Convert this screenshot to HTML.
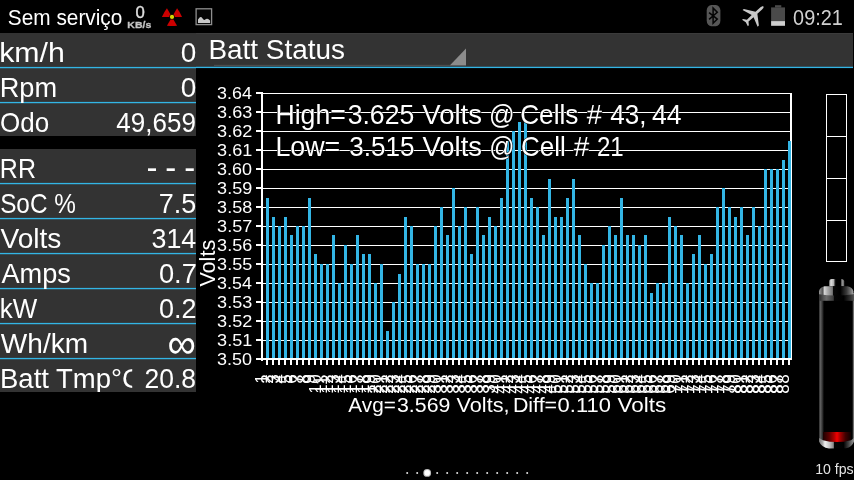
<!DOCTYPE html>
<html lang="pt"><head><meta charset="utf-8"><title>Batt Status</title>
<style>
html,body{margin:0;padding:0;background:#000;overflow:hidden}
svg{display:block;font-family:"Liberation Sans",sans-serif}
text{font-family:"Liberation Sans",sans-serif}
</style></head><body>
<svg width="854" height="480" viewBox="0 0 854 480">
<rect x="0" y="0" width="854" height="480" fill="#000"/>
<text x="7.86" y="25.0" font-size="22.2" fill="#fff" textLength="114.5" lengthAdjust="spacingAndGlyphs">Sem serviço</text>
<text x="135.53" y="17.9" font-size="16.6" fill="#e0e0e0" textLength="9.32" lengthAdjust="spacingAndGlyphs" stroke="#e0e0e0" stroke-width="0.35">0</text>
<text x="127.39" y="27.9" font-size="9.8" fill="#c4c4c4" textLength="23.94" lengthAdjust="spacingAndGlyphs" stroke="#c4c4c4" stroke-width="0.3" font-weight="bold">KB/s</text>
<path d="M172.0,16.9 L182.10,16.90 Q180.13,12.20 177.05,8.15 Z" fill="#cc0000"/>
<path d="M172.0,16.9 L166.95,8.15 Q163.87,12.20 161.90,16.90 Z" fill="#cc0000"/>
<path d="M172.0,16.9 L166.95,25.65 Q172.00,26.29 177.05,25.65 Z" fill="#cc0000"/>
<circle cx="172.0" cy="16.9" r="2.7" fill="#000"/>
<circle cx="172.0" cy="16.9" r="2.1" fill="#d6d600"/>
<rect x="196.1" y="8.8" width="15.5" height="15.8" fill="#050505" stroke="#8e8e8e" stroke-width="1.3"/>
<path d="M198,22.9 L198,19.6 L199.6,17.4 L200.6,16.9 L201.6,17.3 L203.4,19.4 L204.5,19.9 L206,18.9 L207,18.7 L208.2,19 L210.1,20.6 L210.1,22.9 Z" fill="#c8c8c8"/>
<rect x="706.7" y="5.0" width="13.7" height="21.2" rx="4.6" ry="5.6" fill="#565656"/>
<path d="M709.1,12.6 L717.3,19.1 L713.1,23.3 L713.1,8.1 L717.3,12.3 L709.1,19.4" fill="none" stroke="#050505" stroke-width="1.5" stroke-linejoin="miter"/>
<g transform="translate(754.0,14.9) rotate(48) scale(0.96)" fill="#c9c9c9"><path d="M0,-13.2 C1.0,-13.2 1.45,-11.6 1.45,-10 L1.45,-3.4 L11.7,3.7 L11.7,5.5 L1.45,1.9 L1.25,8.8 L4.5,11.3 L4.5,12.7 L0,11.5 L-4.5,12.7 L-4.5,11.3 L-1.25,8.8 L-1.45,1.9 L-11.7,5.5 L-11.7,3.7 L-1.45,-3.4 L-1.45,-10 C-1.45,-11.6 -1.0,-13.2 0,-13.2 Z"/></g>
<rect x="775.0" y="5.2" width="6.3" height="2.4" fill="#4a4a4a"/>
<rect x="771.1" y="7.4" width="13.9" height="13.8" fill="#4a4a4a"/>
<rect x="771.1" y="21.1" width="13.9" height="4.7" fill="#cfcfcf"/>
<text x="793.1" y="25.0" font-size="22.0" fill="#d0d0d0" textLength="49.74" lengthAdjust="spacingAndGlyphs">09:21</text>
<rect x="0" y="33" width="853" height="35" fill="#333333"/>
<rect x="196" y="33" width="657" height="1" fill="#3b3b3b"/>
<rect x="0" y="68" width="196" height="68" fill="#333333"/>
<rect x="0" y="149" width="196" height="243" fill="#333333"/>
<rect x="214" y="64.8" width="252" height="1.2" fill="#4d4d4d"/>
<path d="M466,48.5 L466,65.3 L450,65.3 Z" fill="#8c8c8c"/>
<rect x="0" y="66.9" width="196" height="1.33" fill="#33b5e5"/>
<rect x="196" y="66.75" width="657" height="1.33" fill="#33b5e5"/>
<rect x="0" y="101.9" width="196" height="1.33" fill="#33b5e5"/>
<rect x="0" y="182.9" width="196" height="1.33" fill="#33b5e5"/>
<rect x="0" y="217.9" width="196" height="1.33" fill="#33b5e5"/>
<rect x="0" y="252.9" width="196" height="1.33" fill="#33b5e5"/>
<rect x="0" y="287.9" width="196" height="1.33" fill="#33b5e5"/>
<rect x="0" y="322.9" width="196" height="1.33" fill="#33b5e5"/>
<rect x="0" y="357.9" width="196" height="1.33" fill="#33b5e5"/>
<text x="208.5" y="58.8" font-size="27.7" fill="#fff" textLength="136.46" lengthAdjust="spacingAndGlyphs">Batt Status</text>
<clipPath id="cl"><rect x="0" y="360" width="132.2" height="32"/></clipPath>
<text x="-0.79" y="61.9" font-size="27.7" fill="#fff" textLength="65.65" lengthAdjust="spacingAndGlyphs">km/h</text>
<text x="180.78" y="61.9" font-size="27.7" fill="#fff" textLength="15.55" lengthAdjust="spacingAndGlyphs">0</text>
<text x="-0.34" y="96.9" font-size="27.7" fill="#fff" textLength="57.45" lengthAdjust="spacingAndGlyphs">Rpm</text>
<text x="180.78" y="96.9" font-size="27.7" fill="#fff" textLength="15.55" lengthAdjust="spacingAndGlyphs">0</text>
<text x="0.02" y="132.0" font-size="27.7" fill="#fff" textLength="49.13" lengthAdjust="spacingAndGlyphs">Odo</text>
<text x="116.31" y="132.0" font-size="27.7" fill="#fff" textLength="79.59" lengthAdjust="spacingAndGlyphs">49,659</text>
<text x="-0.16" y="178.0" font-size="27.7" fill="#fff" textLength="36.08" lengthAdjust="spacingAndGlyphs">RR</text>
<text x="0.16" y="212.8" font-size="27.7" fill="#fff" textLength="75.69" lengthAdjust="spacingAndGlyphs">SoC %</text>
<text x="158.65" y="212.8" font-size="27.7" fill="#fff" textLength="37.54" lengthAdjust="spacingAndGlyphs">7.5</text>
<text x="0.46" y="247.8" font-size="27.7" fill="#fff" textLength="60.94" lengthAdjust="spacingAndGlyphs">Volts</text>
<text x="151.49" y="247.8" font-size="27.7" fill="#fff" textLength="44.77" lengthAdjust="spacingAndGlyphs">314</text>
<text x="1.43" y="282.8" font-size="27.7" fill="#fff" textLength="69.55" lengthAdjust="spacingAndGlyphs">Amps</text>
<text x="158.91" y="282.8" font-size="27.7" fill="#fff" textLength="37.96" lengthAdjust="spacingAndGlyphs">0.7</text>
<text x="-0.25" y="317.8" font-size="27.7" fill="#fff" textLength="37.45" lengthAdjust="spacingAndGlyphs">kW</text>
<text x="158.92" y="317.8" font-size="27.7" fill="#fff" textLength="37.54" lengthAdjust="spacingAndGlyphs">0.2</text>
<text x="0.86" y="352.8" font-size="27.7" fill="#fff" textLength="87.24" lengthAdjust="spacingAndGlyphs">Wh/km</text>
<text x="167.41" y="357.6" font-size="42" fill="#fff" textLength="28.4" lengthAdjust="spacingAndGlyphs">∞</text>
<text x="-0.02" y="387.6" font-size="27.7" fill="#fff" textLength="141.97" lengthAdjust="spacingAndGlyphs" clip-path="url(#cl)">Batt Tmp°C</text>
<text x="144.43" y="387.6" font-size="27.7" fill="#fff" textLength="51.54" lengthAdjust="spacingAndGlyphs">20.8</text>
<text y="179.1" font-size="33" fill="#fff" x="146.45 158 165.35 177 184.3">- - -</text>
<rect x="262" y="93" width="529" height="1" fill="#fff"/>
<rect x="256" y="92" width="6" height="2" fill="#fff"/>
<text x="217.13" y="98.7" font-size="17" fill="#fff" textLength="34.79" lengthAdjust="spacingAndGlyphs">3.64</text>
<rect x="262" y="112" width="529" height="1" fill="#fff"/>
<rect x="256" y="111" width="6" height="2" fill="#fff"/>
<text x="217.12" y="117.7" font-size="17" fill="#fff" textLength="35.07" lengthAdjust="spacingAndGlyphs">3.63</text>
<rect x="262" y="131" width="529" height="1" fill="#fff"/>
<rect x="256" y="130" width="6" height="2" fill="#fff"/>
<text x="217.12" y="136.7" font-size="17" fill="#fff" textLength="35.21" lengthAdjust="spacingAndGlyphs">3.62</text>
<rect x="262" y="150" width="529" height="1" fill="#fff"/>
<rect x="256" y="149" width="6" height="2" fill="#fff"/>
<text x="217.12" y="155.7" font-size="17" fill="#fff" textLength="35.16" lengthAdjust="spacingAndGlyphs">3.61</text>
<rect x="262" y="169" width="529" height="1" fill="#fff"/>
<rect x="256" y="168" width="6" height="2" fill="#fff"/>
<text x="217.13" y="174.7" font-size="17" fill="#fff" textLength="34.97" lengthAdjust="spacingAndGlyphs">3.60</text>
<rect x="262" y="188" width="529" height="1" fill="#fff"/>
<rect x="256" y="187" width="6" height="2" fill="#fff"/>
<text x="217.12" y="193.7" font-size="17" fill="#fff" textLength="35.11" lengthAdjust="spacingAndGlyphs">3.59</text>
<rect x="262" y="207" width="529" height="1" fill="#fff"/>
<rect x="256" y="206" width="6" height="2" fill="#fff"/>
<text x="217.12" y="212.7" font-size="17" fill="#fff" textLength="35.07" lengthAdjust="spacingAndGlyphs">3.58</text>
<rect x="262" y="226" width="529" height="1" fill="#fff"/>
<rect x="256" y="225" width="6" height="2" fill="#fff"/>
<text x="217.12" y="231.7" font-size="17" fill="#fff" textLength="35.21" lengthAdjust="spacingAndGlyphs">3.57</text>
<rect x="262" y="245" width="529" height="1" fill="#fff"/>
<rect x="256" y="244" width="6" height="2" fill="#fff"/>
<text x="217.12" y="250.7" font-size="17" fill="#fff" textLength="35.07" lengthAdjust="spacingAndGlyphs">3.56</text>
<rect x="262" y="264" width="529" height="1" fill="#fff"/>
<rect x="256" y="263" width="6" height="2" fill="#fff"/>
<text x="217.13" y="269.7" font-size="17" fill="#fff" textLength="35.02" lengthAdjust="spacingAndGlyphs">3.55</text>
<rect x="262" y="283" width="529" height="1" fill="#fff"/>
<rect x="256" y="282" width="6" height="2" fill="#fff"/>
<text x="217.13" y="288.7" font-size="17" fill="#fff" textLength="34.79" lengthAdjust="spacingAndGlyphs">3.54</text>
<rect x="262" y="302" width="529" height="1" fill="#fff"/>
<rect x="256" y="301" width="6" height="2" fill="#fff"/>
<text x="217.12" y="307.7" font-size="17" fill="#fff" textLength="35.07" lengthAdjust="spacingAndGlyphs">3.53</text>
<rect x="262" y="321" width="529" height="1" fill="#fff"/>
<rect x="256" y="320" width="6" height="2" fill="#fff"/>
<text x="217.12" y="326.7" font-size="17" fill="#fff" textLength="35.21" lengthAdjust="spacingAndGlyphs">3.52</text>
<rect x="262" y="340" width="529" height="1" fill="#fff"/>
<rect x="256" y="339" width="6" height="2" fill="#fff"/>
<text x="217.12" y="345.7" font-size="17" fill="#fff" textLength="35.16" lengthAdjust="spacingAndGlyphs">3.51</text>
<rect x="262" y="359" width="529" height="1" fill="#fff"/>
<rect x="256" y="358" width="6" height="2" fill="#fff"/>
<text x="217.13" y="364.7" font-size="17" fill="#fff" textLength="34.97" lengthAdjust="spacingAndGlyphs">3.50</text>
<rect x="790" y="93" width="2" height="267" fill="#fff"/>
<rect x="266" y="198" width="3" height="161" fill="#33b5e5"/>
<rect x="272" y="217" width="3" height="142" fill="#33b5e5"/>
<rect x="278" y="226" width="3" height="133" fill="#33b5e5"/>
<rect x="284" y="217" width="3" height="142" fill="#33b5e5"/>
<rect x="290" y="235" width="3" height="124" fill="#33b5e5"/>
<rect x="296" y="226" width="3" height="133" fill="#33b5e5"/>
<rect x="302" y="226" width="3" height="133" fill="#33b5e5"/>
<rect x="308" y="198" width="3" height="161" fill="#33b5e5"/>
<rect x="314" y="254" width="3" height="105" fill="#33b5e5"/>
<rect x="320" y="264" width="3" height="95" fill="#33b5e5"/>
<rect x="326" y="264" width="3" height="95" fill="#33b5e5"/>
<rect x="332" y="235" width="3" height="124" fill="#33b5e5"/>
<rect x="338" y="283" width="3" height="76" fill="#33b5e5"/>
<rect x="344" y="245" width="3" height="114" fill="#33b5e5"/>
<rect x="350" y="264" width="3" height="95" fill="#33b5e5"/>
<rect x="356" y="235" width="3" height="124" fill="#33b5e5"/>
<rect x="362" y="254" width="3" height="105" fill="#33b5e5"/>
<rect x="368" y="254" width="3" height="105" fill="#33b5e5"/>
<rect x="374" y="283" width="3" height="76" fill="#33b5e5"/>
<rect x="380" y="264" width="3" height="95" fill="#33b5e5"/>
<rect x="386" y="331" width="3" height="28" fill="#33b5e5"/>
<rect x="392" y="302" width="3" height="57" fill="#33b5e5"/>
<rect x="398" y="274" width="3" height="85" fill="#33b5e5"/>
<rect x="404" y="217" width="3" height="142" fill="#33b5e5"/>
<rect x="410" y="226" width="3" height="133" fill="#33b5e5"/>
<rect x="416" y="264" width="3" height="95" fill="#33b5e5"/>
<rect x="422" y="264" width="3" height="95" fill="#33b5e5"/>
<rect x="428" y="264" width="3" height="95" fill="#33b5e5"/>
<rect x="434" y="226" width="3" height="133" fill="#33b5e5"/>
<rect x="440" y="207" width="3" height="152" fill="#33b5e5"/>
<rect x="446" y="235" width="3" height="124" fill="#33b5e5"/>
<rect x="452" y="188" width="3" height="171" fill="#33b5e5"/>
<rect x="458" y="226" width="3" height="133" fill="#33b5e5"/>
<rect x="464" y="207" width="3" height="152" fill="#33b5e5"/>
<rect x="470" y="254" width="3" height="105" fill="#33b5e5"/>
<rect x="476" y="207" width="3" height="152" fill="#33b5e5"/>
<rect x="482" y="235" width="3" height="124" fill="#33b5e5"/>
<rect x="488" y="217" width="3" height="142" fill="#33b5e5"/>
<rect x="494" y="226" width="3" height="133" fill="#33b5e5"/>
<rect x="500" y="198" width="3" height="161" fill="#33b5e5"/>
<rect x="506" y="141" width="3" height="218" fill="#33b5e5"/>
<rect x="512" y="131" width="3" height="228" fill="#33b5e5"/>
<rect x="518" y="122" width="3" height="237" fill="#33b5e5"/>
<rect x="524" y="122" width="3" height="237" fill="#33b5e5"/>
<rect x="530" y="198" width="3" height="161" fill="#33b5e5"/>
<rect x="536" y="207" width="3" height="152" fill="#33b5e5"/>
<rect x="542" y="235" width="3" height="124" fill="#33b5e5"/>
<rect x="548" y="179" width="3" height="180" fill="#33b5e5"/>
<rect x="554" y="217" width="3" height="142" fill="#33b5e5"/>
<rect x="560" y="217" width="3" height="142" fill="#33b5e5"/>
<rect x="566" y="198" width="3" height="161" fill="#33b5e5"/>
<rect x="572" y="179" width="3" height="180" fill="#33b5e5"/>
<rect x="578" y="235" width="3" height="124" fill="#33b5e5"/>
<rect x="584" y="264" width="3" height="95" fill="#33b5e5"/>
<rect x="590" y="283" width="3" height="76" fill="#33b5e5"/>
<rect x="596" y="283" width="3" height="76" fill="#33b5e5"/>
<rect x="602" y="245" width="3" height="114" fill="#33b5e5"/>
<rect x="608" y="226" width="3" height="133" fill="#33b5e5"/>
<rect x="614" y="235" width="3" height="124" fill="#33b5e5"/>
<rect x="620" y="198" width="3" height="161" fill="#33b5e5"/>
<rect x="626" y="235" width="3" height="124" fill="#33b5e5"/>
<rect x="632" y="235" width="3" height="124" fill="#33b5e5"/>
<rect x="638" y="245" width="3" height="114" fill="#33b5e5"/>
<rect x="644" y="235" width="3" height="124" fill="#33b5e5"/>
<rect x="650" y="293" width="3" height="66" fill="#33b5e5"/>
<rect x="656" y="283" width="3" height="76" fill="#33b5e5"/>
<rect x="662" y="283" width="3" height="76" fill="#33b5e5"/>
<rect x="668" y="217" width="3" height="142" fill="#33b5e5"/>
<rect x="674" y="226" width="3" height="133" fill="#33b5e5"/>
<rect x="680" y="235" width="3" height="124" fill="#33b5e5"/>
<rect x="686" y="283" width="3" height="76" fill="#33b5e5"/>
<rect x="692" y="254" width="3" height="105" fill="#33b5e5"/>
<rect x="698" y="235" width="3" height="124" fill="#33b5e5"/>
<rect x="704" y="264" width="3" height="95" fill="#33b5e5"/>
<rect x="710" y="254" width="3" height="105" fill="#33b5e5"/>
<rect x="716" y="207" width="3" height="152" fill="#33b5e5"/>
<rect x="722" y="188" width="3" height="171" fill="#33b5e5"/>
<rect x="728" y="207" width="3" height="152" fill="#33b5e5"/>
<rect x="734" y="217" width="3" height="142" fill="#33b5e5"/>
<rect x="740" y="207" width="3" height="152" fill="#33b5e5"/>
<rect x="746" y="235" width="3" height="124" fill="#33b5e5"/>
<rect x="752" y="207" width="3" height="152" fill="#33b5e5"/>
<rect x="758" y="226" width="3" height="133" fill="#33b5e5"/>
<rect x="764" y="169" width="3" height="190" fill="#33b5e5"/>
<rect x="770" y="169" width="3" height="190" fill="#33b5e5"/>
<rect x="776" y="169" width="3" height="190" fill="#33b5e5"/>
<rect x="782" y="160" width="3" height="199" fill="#33b5e5"/>
<rect x="788" y="141" width="3" height="218" fill="#33b5e5"/>
<rect x="261" y="92" width="2" height="269" fill="#fff"/>
<rect x="261" y="358" width="531" height="2" fill="#fff"/>
<rect x="266" y="360" width="2" height="5" fill="#fff"/>
<rect x="272" y="360" width="2" height="5" fill="#fff"/>
<rect x="278" y="360" width="2" height="5" fill="#fff"/>
<rect x="284" y="360" width="2" height="5" fill="#fff"/>
<rect x="290" y="360" width="2" height="5" fill="#fff"/>
<rect x="296" y="360" width="2" height="5" fill="#fff"/>
<rect x="302" y="360" width="2" height="5" fill="#fff"/>
<rect x="308" y="360" width="2" height="5" fill="#fff"/>
<rect x="314" y="360" width="2" height="5" fill="#fff"/>
<rect x="320" y="360" width="2" height="5" fill="#fff"/>
<rect x="326" y="360" width="2" height="5" fill="#fff"/>
<rect x="332" y="360" width="2" height="5" fill="#fff"/>
<rect x="338" y="360" width="2" height="5" fill="#fff"/>
<rect x="344" y="360" width="2" height="5" fill="#fff"/>
<rect x="350" y="360" width="2" height="5" fill="#fff"/>
<rect x="356" y="360" width="2" height="5" fill="#fff"/>
<rect x="362" y="360" width="2" height="5" fill="#fff"/>
<rect x="368" y="360" width="2" height="5" fill="#fff"/>
<rect x="374" y="360" width="2" height="5" fill="#fff"/>
<rect x="380" y="360" width="2" height="5" fill="#fff"/>
<rect x="386" y="360" width="2" height="5" fill="#fff"/>
<rect x="392" y="360" width="2" height="5" fill="#fff"/>
<rect x="398" y="360" width="2" height="5" fill="#fff"/>
<rect x="404" y="360" width="2" height="5" fill="#fff"/>
<rect x="410" y="360" width="2" height="5" fill="#fff"/>
<rect x="416" y="360" width="2" height="5" fill="#fff"/>
<rect x="422" y="360" width="2" height="5" fill="#fff"/>
<rect x="428" y="360" width="2" height="5" fill="#fff"/>
<rect x="434" y="360" width="2" height="5" fill="#fff"/>
<rect x="440" y="360" width="2" height="5" fill="#fff"/>
<rect x="446" y="360" width="2" height="5" fill="#fff"/>
<rect x="452" y="360" width="2" height="5" fill="#fff"/>
<rect x="458" y="360" width="2" height="5" fill="#fff"/>
<rect x="464" y="360" width="2" height="5" fill="#fff"/>
<rect x="470" y="360" width="2" height="5" fill="#fff"/>
<rect x="476" y="360" width="2" height="5" fill="#fff"/>
<rect x="482" y="360" width="2" height="5" fill="#fff"/>
<rect x="488" y="360" width="2" height="5" fill="#fff"/>
<rect x="494" y="360" width="2" height="5" fill="#fff"/>
<rect x="500" y="360" width="2" height="5" fill="#fff"/>
<rect x="506" y="360" width="2" height="5" fill="#fff"/>
<rect x="512" y="360" width="2" height="5" fill="#fff"/>
<rect x="518" y="360" width="2" height="5" fill="#fff"/>
<rect x="524" y="360" width="2" height="5" fill="#fff"/>
<rect x="530" y="360" width="2" height="5" fill="#fff"/>
<rect x="536" y="360" width="2" height="5" fill="#fff"/>
<rect x="542" y="360" width="2" height="5" fill="#fff"/>
<rect x="548" y="360" width="2" height="5" fill="#fff"/>
<rect x="554" y="360" width="2" height="5" fill="#fff"/>
<rect x="560" y="360" width="2" height="5" fill="#fff"/>
<rect x="566" y="360" width="2" height="5" fill="#fff"/>
<rect x="572" y="360" width="2" height="5" fill="#fff"/>
<rect x="578" y="360" width="2" height="5" fill="#fff"/>
<rect x="584" y="360" width="2" height="5" fill="#fff"/>
<rect x="590" y="360" width="2" height="5" fill="#fff"/>
<rect x="596" y="360" width="2" height="5" fill="#fff"/>
<rect x="602" y="360" width="2" height="5" fill="#fff"/>
<rect x="608" y="360" width="2" height="5" fill="#fff"/>
<rect x="614" y="360" width="2" height="5" fill="#fff"/>
<rect x="620" y="360" width="2" height="5" fill="#fff"/>
<rect x="626" y="360" width="2" height="5" fill="#fff"/>
<rect x="632" y="360" width="2" height="5" fill="#fff"/>
<rect x="638" y="360" width="2" height="5" fill="#fff"/>
<rect x="644" y="360" width="2" height="5" fill="#fff"/>
<rect x="650" y="360" width="2" height="5" fill="#fff"/>
<rect x="656" y="360" width="2" height="5" fill="#fff"/>
<rect x="662" y="360" width="2" height="5" fill="#fff"/>
<rect x="668" y="360" width="2" height="5" fill="#fff"/>
<rect x="674" y="360" width="2" height="5" fill="#fff"/>
<rect x="680" y="360" width="2" height="5" fill="#fff"/>
<rect x="686" y="360" width="2" height="5" fill="#fff"/>
<rect x="692" y="360" width="2" height="5" fill="#fff"/>
<rect x="698" y="360" width="2" height="5" fill="#fff"/>
<rect x="704" y="360" width="2" height="5" fill="#fff"/>
<rect x="710" y="360" width="2" height="5" fill="#fff"/>
<rect x="716" y="360" width="2" height="5" fill="#fff"/>
<rect x="722" y="360" width="2" height="5" fill="#fff"/>
<rect x="728" y="360" width="2" height="5" fill="#fff"/>
<rect x="734" y="360" width="2" height="5" fill="#fff"/>
<rect x="740" y="360" width="2" height="5" fill="#fff"/>
<rect x="746" y="360" width="2" height="5" fill="#fff"/>
<rect x="752" y="360" width="2" height="5" fill="#fff"/>
<rect x="758" y="360" width="2" height="5" fill="#fff"/>
<rect x="764" y="360" width="2" height="5" fill="#fff"/>
<rect x="770" y="360" width="2" height="5" fill="#fff"/>
<rect x="776" y="360" width="2" height="5" fill="#fff"/>
<rect x="782" y="360" width="2" height="5" fill="#fff"/>
<rect x="788" y="360" width="2" height="5" fill="#fff"/>
<text transform="translate(266.50,374.2) rotate(-90)" font-size="17" text-anchor="end" fill="#fff">1</text>
<text transform="translate(272.50,374.2) rotate(-90)" font-size="17" text-anchor="end" fill="#fff">2</text>
<text transform="translate(278.50,374.2) rotate(-90)" font-size="17" text-anchor="end" fill="#fff">3</text>
<text transform="translate(284.50,374.2) rotate(-90)" font-size="17" text-anchor="end" fill="#fff">4</text>
<text transform="translate(290.50,374.2) rotate(-90)" font-size="17" text-anchor="end" fill="#fff">5</text>
<text transform="translate(296.50,374.2) rotate(-90)" font-size="17" text-anchor="end" fill="#fff">6</text>
<text transform="translate(302.50,374.2) rotate(-90)" font-size="17" text-anchor="end" fill="#fff">7</text>
<text transform="translate(308.50,374.2) rotate(-90)" font-size="17" text-anchor="end" fill="#fff">8</text>
<text transform="translate(314.50,374.2) rotate(-90)" font-size="17" text-anchor="end" fill="#fff">9</text>
<text transform="translate(320.50,393.8) rotate(-90)" font-size="17" fill="#fff">1<tspan dx="0.7">0</tspan></text>
<text transform="translate(326.50,393.8) rotate(-90)" font-size="17" fill="#fff">1<tspan dx="0.7">1</tspan></text>
<text transform="translate(332.50,393.8) rotate(-90)" font-size="17" fill="#fff">1<tspan dx="0.7">2</tspan></text>
<text transform="translate(338.50,393.8) rotate(-90)" font-size="17" fill="#fff">1<tspan dx="0.7">3</tspan></text>
<text transform="translate(344.50,393.8) rotate(-90)" font-size="17" fill="#fff">1<tspan dx="0.7">4</tspan></text>
<text transform="translate(350.50,393.8) rotate(-90)" font-size="17" fill="#fff">1<tspan dx="0.7">5</tspan></text>
<text transform="translate(356.50,393.8) rotate(-90)" font-size="17" fill="#fff">1<tspan dx="0.7">6</tspan></text>
<text transform="translate(362.50,393.8) rotate(-90)" font-size="17" fill="#fff">1<tspan dx="0.7">7</tspan></text>
<text transform="translate(368.50,393.8) rotate(-90)" font-size="17" fill="#fff">1<tspan dx="0.7">8</tspan></text>
<text transform="translate(374.50,393.8) rotate(-90)" font-size="17" fill="#fff">1<tspan dx="0.7">9</tspan></text>
<text transform="translate(380.50,393.8) rotate(-90)" font-size="17" fill="#fff">2<tspan dx="0.7">0</tspan></text>
<text transform="translate(386.50,393.8) rotate(-90)" font-size="17" fill="#fff">2<tspan dx="0.7">1</tspan></text>
<text transform="translate(392.50,393.8) rotate(-90)" font-size="17" fill="#fff">2<tspan dx="0.7">2</tspan></text>
<text transform="translate(398.50,393.8) rotate(-90)" font-size="17" fill="#fff">2<tspan dx="0.7">3</tspan></text>
<text transform="translate(404.50,393.8) rotate(-90)" font-size="17" fill="#fff">2<tspan dx="0.7">4</tspan></text>
<text transform="translate(410.50,393.8) rotate(-90)" font-size="17" fill="#fff">2<tspan dx="0.7">5</tspan></text>
<text transform="translate(416.50,393.8) rotate(-90)" font-size="17" fill="#fff">2<tspan dx="0.7">6</tspan></text>
<text transform="translate(422.50,393.8) rotate(-90)" font-size="17" fill="#fff">2<tspan dx="0.7">7</tspan></text>
<text transform="translate(428.50,393.8) rotate(-90)" font-size="17" fill="#fff">2<tspan dx="0.7">8</tspan></text>
<text transform="translate(434.50,393.8) rotate(-90)" font-size="17" fill="#fff">2<tspan dx="0.7">9</tspan></text>
<text transform="translate(440.50,393.8) rotate(-90)" font-size="17" fill="#fff">3<tspan dx="0.7">0</tspan></text>
<text transform="translate(446.50,393.8) rotate(-90)" font-size="17" fill="#fff">3<tspan dx="0.7">1</tspan></text>
<text transform="translate(452.50,393.8) rotate(-90)" font-size="17" fill="#fff">3<tspan dx="0.7">2</tspan></text>
<text transform="translate(458.50,393.8) rotate(-90)" font-size="17" fill="#fff">3<tspan dx="0.7">3</tspan></text>
<text transform="translate(464.50,393.8) rotate(-90)" font-size="17" fill="#fff">3<tspan dx="0.7">4</tspan></text>
<text transform="translate(470.50,393.8) rotate(-90)" font-size="17" fill="#fff">3<tspan dx="0.7">5</tspan></text>
<text transform="translate(476.50,393.8) rotate(-90)" font-size="17" fill="#fff">3<tspan dx="0.7">6</tspan></text>
<text transform="translate(482.50,393.8) rotate(-90)" font-size="17" fill="#fff">3<tspan dx="0.7">7</tspan></text>
<text transform="translate(488.50,393.8) rotate(-90)" font-size="17" fill="#fff">3<tspan dx="0.7">8</tspan></text>
<text transform="translate(494.50,393.8) rotate(-90)" font-size="17" fill="#fff">3<tspan dx="0.7">9</tspan></text>
<text transform="translate(500.50,393.8) rotate(-90)" font-size="17" fill="#fff">4<tspan dx="0.7">0</tspan></text>
<text transform="translate(506.50,393.8) rotate(-90)" font-size="17" fill="#fff">4<tspan dx="0.7">1</tspan></text>
<text transform="translate(512.50,393.8) rotate(-90)" font-size="17" fill="#fff">4<tspan dx="0.7">2</tspan></text>
<text transform="translate(518.50,393.8) rotate(-90)" font-size="17" fill="#fff">4<tspan dx="0.7">3</tspan></text>
<text transform="translate(524.50,393.8) rotate(-90)" font-size="17" fill="#fff">4<tspan dx="0.7">4</tspan></text>
<text transform="translate(530.50,393.8) rotate(-90)" font-size="17" fill="#fff">4<tspan dx="0.7">5</tspan></text>
<text transform="translate(536.50,393.8) rotate(-90)" font-size="17" fill="#fff">4<tspan dx="0.7">6</tspan></text>
<text transform="translate(542.50,393.8) rotate(-90)" font-size="17" fill="#fff">4<tspan dx="0.7">7</tspan></text>
<text transform="translate(548.50,393.8) rotate(-90)" font-size="17" fill="#fff">4<tspan dx="0.7">8</tspan></text>
<text transform="translate(554.50,393.8) rotate(-90)" font-size="17" fill="#fff">4<tspan dx="0.7">9</tspan></text>
<text transform="translate(560.50,393.8) rotate(-90)" font-size="17" fill="#fff">5<tspan dx="0.7">0</tspan></text>
<text transform="translate(566.50,393.8) rotate(-90)" font-size="17" fill="#fff">5<tspan dx="0.7">1</tspan></text>
<text transform="translate(572.50,393.8) rotate(-90)" font-size="17" fill="#fff">5<tspan dx="0.7">2</tspan></text>
<text transform="translate(578.50,393.8) rotate(-90)" font-size="17" fill="#fff">5<tspan dx="0.7">3</tspan></text>
<text transform="translate(584.50,393.8) rotate(-90)" font-size="17" fill="#fff">5<tspan dx="0.7">4</tspan></text>
<text transform="translate(590.50,393.8) rotate(-90)" font-size="17" fill="#fff">5<tspan dx="0.7">5</tspan></text>
<text transform="translate(596.50,393.8) rotate(-90)" font-size="17" fill="#fff">5<tspan dx="0.7">6</tspan></text>
<text transform="translate(602.50,393.8) rotate(-90)" font-size="17" fill="#fff">5<tspan dx="0.7">7</tspan></text>
<text transform="translate(608.50,393.8) rotate(-90)" font-size="17" fill="#fff">5<tspan dx="0.7">8</tspan></text>
<text transform="translate(614.50,393.8) rotate(-90)" font-size="17" fill="#fff">5<tspan dx="0.7">9</tspan></text>
<text transform="translate(620.50,393.8) rotate(-90)" font-size="17" fill="#fff">6<tspan dx="0.7">0</tspan></text>
<text transform="translate(626.50,393.8) rotate(-90)" font-size="17" fill="#fff">6<tspan dx="0.7">1</tspan></text>
<text transform="translate(632.50,393.8) rotate(-90)" font-size="17" fill="#fff">6<tspan dx="0.7">2</tspan></text>
<text transform="translate(638.50,393.8) rotate(-90)" font-size="17" fill="#fff">6<tspan dx="0.7">3</tspan></text>
<text transform="translate(644.50,393.8) rotate(-90)" font-size="17" fill="#fff">6<tspan dx="0.7">4</tspan></text>
<text transform="translate(650.50,393.8) rotate(-90)" font-size="17" fill="#fff">6<tspan dx="0.7">5</tspan></text>
<text transform="translate(656.50,393.8) rotate(-90)" font-size="17" fill="#fff">6<tspan dx="0.7">6</tspan></text>
<text transform="translate(662.50,393.8) rotate(-90)" font-size="17" fill="#fff">6<tspan dx="0.7">7</tspan></text>
<text transform="translate(668.50,393.8) rotate(-90)" font-size="17" fill="#fff">6<tspan dx="0.7">8</tspan></text>
<text transform="translate(674.50,393.8) rotate(-90)" font-size="17" fill="#fff">6<tspan dx="0.7">9</tspan></text>
<text transform="translate(680.50,393.8) rotate(-90)" font-size="17" fill="#fff">7<tspan dx="0.7">0</tspan></text>
<text transform="translate(686.50,393.8) rotate(-90)" font-size="17" fill="#fff">7<tspan dx="0.7">1</tspan></text>
<text transform="translate(692.50,393.8) rotate(-90)" font-size="17" fill="#fff">7<tspan dx="0.7">2</tspan></text>
<text transform="translate(698.50,393.8) rotate(-90)" font-size="17" fill="#fff">7<tspan dx="0.7">3</tspan></text>
<text transform="translate(704.50,393.8) rotate(-90)" font-size="17" fill="#fff">7<tspan dx="0.7">4</tspan></text>
<text transform="translate(710.50,393.8) rotate(-90)" font-size="17" fill="#fff">7<tspan dx="0.7">5</tspan></text>
<text transform="translate(716.50,393.8) rotate(-90)" font-size="17" fill="#fff">7<tspan dx="0.7">6</tspan></text>
<text transform="translate(722.50,393.8) rotate(-90)" font-size="17" fill="#fff">7<tspan dx="0.7">7</tspan></text>
<text transform="translate(728.50,393.8) rotate(-90)" font-size="17" fill="#fff">7<tspan dx="0.7">8</tspan></text>
<text transform="translate(734.50,393.8) rotate(-90)" font-size="17" fill="#fff">7<tspan dx="0.7">9</tspan></text>
<text transform="translate(740.50,393.8) rotate(-90)" font-size="17" fill="#fff">8<tspan dx="0.7">0</tspan></text>
<text transform="translate(746.50,393.8) rotate(-90)" font-size="17" fill="#fff">8<tspan dx="0.7">1</tspan></text>
<text transform="translate(752.50,393.8) rotate(-90)" font-size="17" fill="#fff">8<tspan dx="0.7">2</tspan></text>
<text transform="translate(758.50,393.8) rotate(-90)" font-size="17" fill="#fff">8<tspan dx="0.7">3</tspan></text>
<text transform="translate(764.50,393.8) rotate(-90)" font-size="17" fill="#fff">8<tspan dx="0.7">4</tspan></text>
<text transform="translate(770.50,393.8) rotate(-90)" font-size="17" fill="#fff">8<tspan dx="0.7">5</tspan></text>
<text transform="translate(776.50,393.8) rotate(-90)" font-size="17" fill="#fff">8<tspan dx="0.7">6</tspan></text>
<text transform="translate(782.50,393.8) rotate(-90)" font-size="17" fill="#fff">8<tspan dx="0.7">7</tspan></text>
<text transform="translate(788.50,393.8) rotate(-90)" font-size="17" fill="#fff">8<tspan dx="0.7">8</tspan></text>
<text y="123.6" font-size="27.7" fill="#fff" stroke="#000" stroke-width="1.1" paint-order="stroke" stroke-linejoin="round" xml:space="preserve"><tspan x="275.4" textLength="70.38" lengthAdjust="spacingAndGlyphs">High=</tspan> <tspan x="347.7" textLength="66.56" lengthAdjust="spacingAndGlyphs">3.625</tspan> <tspan x="422.36" textLength="59.61" lengthAdjust="spacingAndGlyphs">Volts</tspan> <tspan x="489.05" textLength="25.6" lengthAdjust="spacingAndGlyphs">@</tspan> <tspan x="520.19" textLength="58.23" lengthAdjust="spacingAndGlyphs">Cells</tspan> <tspan x="586.76" textLength="15.24" lengthAdjust="spacingAndGlyphs">#</tspan> <tspan x="610.32" textLength="36.13" lengthAdjust="spacingAndGlyphs">43,</tspan> <tspan x="651.9" textLength="29.59" lengthAdjust="spacingAndGlyphs">44</tspan></text>
<text y="155.8" font-size="27.7" fill="#fff" stroke="#000" stroke-width="1.1" paint-order="stroke" stroke-linejoin="round" xml:space="preserve"><tspan x="275.39" textLength="64.81" lengthAdjust="spacingAndGlyphs">Low=</tspan> <tspan x="349.22" textLength="65.22" lengthAdjust="spacingAndGlyphs">3.515</tspan> <tspan x="422.56" textLength="59.41" lengthAdjust="spacingAndGlyphs">Volts</tspan> <tspan x="489.37" textLength="25.24" lengthAdjust="spacingAndGlyphs">@</tspan> <tspan x="520.9" textLength="44.87" lengthAdjust="spacingAndGlyphs">Cell</tspan> <tspan x="573.66" textLength="15.54" lengthAdjust="spacingAndGlyphs">#</tspan> <tspan x="596.9" textLength="26.81" lengthAdjust="spacingAndGlyphs">21</tspan></text>
<text transform="translate(215.0,286.6) rotate(-90)" font-size="21.3" fill="#fff" textLength="46.8" lengthAdjust="spacingAndGlyphs">Volts</text>
<text y="411.6" font-size="20" fill="#fff" xml:space="preserve"><tspan x="348.35" textLength="47.47" lengthAdjust="spacingAndGlyphs">Avg=</tspan> <tspan x="397.0" textLength="53.36" lengthAdjust="spacingAndGlyphs">3.569</tspan> <tspan x="456.59" textLength="52.98" lengthAdjust="spacingAndGlyphs">Volts,</tspan> <tspan x="512.93" textLength="44.2" lengthAdjust="spacingAndGlyphs">Diff=</tspan> <tspan x="557.62" textLength="53.22" lengthAdjust="spacingAndGlyphs">0.110</tspan> <tspan x="617.59" textLength="48.71" lengthAdjust="spacingAndGlyphs">Volts</tspan></text>
<rect x="826" y="94" width="1" height="168" fill="#fff"/>
<rect x="846" y="94" width="1" height="168" fill="#fff"/>
<rect x="826" y="94" width="21" height="1" fill="#fff"/>
<rect x="826" y="136" width="21" height="1" fill="#fff"/>
<rect x="826" y="178" width="21" height="1" fill="#fff"/>
<rect x="826" y="220" width="21" height="1" fill="#fff"/>
<rect x="826" y="261" width="21" height="1" fill="#fff"/>
<defs>
<linearGradient id="gnub" x1="0" x2="1" y1="0" y2="0">
<stop offset="0" stop-color="#555"/><stop offset="0.12" stop-color="#e2e2e2"/><stop offset="0.30" stop-color="#b4b4b4"/><stop offset="0.40" stop-color="#222"/><stop offset="0.45" stop-color="#000"/><stop offset="0.76" stop-color="#000"/><stop offset="0.86" stop-color="#999"/><stop offset="1" stop-color="#666"/></linearGradient>
<linearGradient id="gcap" x1="0" x2="1" y1="0" y2="0">
<stop offset="0" stop-color="#9a9a9a"/><stop offset="0.05" stop-color="#777"/><stop offset="0.11" stop-color="#555"/><stop offset="0.16" stop-color="#d4d4d4"/><stop offset="0.25" stop-color="#ababab"/><stop offset="0.39" stop-color="#777"/><stop offset="0.42" stop-color="#080808"/><stop offset="0.62" stop-color="#000"/><stop offset="0.80" stop-color="#3a3a3a"/><stop offset="0.93" stop-color="#7a7a7a"/><stop offset="1" stop-color="#aaa"/></linearGradient>
<linearGradient id="gring" x1="0" x2="1" y1="0" y2="0">
<stop offset="0" stop-color="#2a2a2a"/><stop offset="0.12" stop-color="#555"/><stop offset="0.2" stop-color="#6a6a6a"/><stop offset="0.40" stop-color="#3c3c3c"/><stop offset="0.43" stop-color="#050505"/><stop offset="0.7" stop-color="#000"/><stop offset="0.9" stop-color="#333"/><stop offset="1" stop-color="#555"/></linearGradient>
<linearGradient id="gbody" x1="0" x2="1" y1="0" y2="0">
<stop offset="0" stop-color="#2a2a2a"/><stop offset="0.04" stop-color="#5e5e5e"/><stop offset="0.09" stop-color="#3a3a3a"/><stop offset="0.125" stop-color="#141414"/><stop offset="0.145" stop-color="#000"/><stop offset="0.95" stop-color="#000"/><stop offset="0.975" stop-color="#5a5a5a"/><stop offset="1" stop-color="#8a8a8a"/></linearGradient>
<linearGradient id="gred" x1="0" x2="1" y1="0" y2="0">
<stop offset="0" stop-color="#1c0000"/><stop offset="0.22" stop-color="#5c0000"/><stop offset="0.40" stop-color="#b00000"/><stop offset="0.48" stop-color="#e60000"/><stop offset="0.52" stop-color="#e60000"/><stop offset="0.62" stop-color="#a00000"/><stop offset="0.8" stop-color="#400000"/><stop offset="1" stop-color="#0c0000"/></linearGradient>
<linearGradient id="gbot" x1="0" x2="1" y1="0" y2="0">
<stop offset="0" stop-color="#777"/><stop offset="0.1" stop-color="#a8a8a8"/><stop offset="0.17" stop-color="#f0f0f0"/><stop offset="0.3" stop-color="#c4c4c4"/><stop offset="0.41" stop-color="#888"/><stop offset="0.44" stop-color="#050505"/><stop offset="0.7" stop-color="#000"/><stop offset="0.85" stop-color="#444"/><stop offset="1" stop-color="#999"/></linearGradient>
</defs>
<path d="M829,286.2 L829,281.5 Q829,279 832,279 L841.2,279 Q844.2,279 844.2,281.5 L844.2,286.2 Z" fill="url(#gnub)"/>
<rect x="819" y="293" width="35" height="148" fill="url(#gbody)"/>
<rect x="819.5" y="294" width="34.5" height="6.8" fill="url(#gring)"/>
<path d="M819,294.3 L819,291.5 Q819.3,287.5 824.5,286.2 L847.5,286.2 Q853,287.5 853.4,291.5 L853.4,294.3 Q836,296.8 819,294.3 Z" fill="url(#gcap)"/>
<rect x="823" y="432" width="28" height="10.5" fill="url(#gred)"/>
<path d="M819,438 Q822,440 823,440.2 Q836.5,444 851,440.2 L854,438 L854,441.5 Q852,447 846,448.3 L829,448.6 Q821.5,447.5 819,441.5 Z" fill="url(#gbot)"/>
<text x="815.14" y="473.7" font-size="14.3" fill="#e4e4e4" textLength="38.55" lengthAdjust="spacingAndGlyphs">10 fps</text>
<circle cx="407.2" cy="472.9" r="1.0" fill="#e0e0e0"/>
<circle cx="417.2" cy="472.9" r="1.0" fill="#e0e0e0"/>
<circle cx="427.2" cy="472.9" r="3.9" fill="#bdbdbd"/><circle cx="427.2" cy="472.9" r="2.8" fill="#fff"/>
<circle cx="437.2" cy="472.9" r="1.0" fill="#e0e0e0"/>
<circle cx="447.2" cy="472.9" r="1.0" fill="#e0e0e0"/>
<circle cx="457.2" cy="472.9" r="1.0" fill="#e0e0e0"/>
<circle cx="467.2" cy="472.9" r="1.0" fill="#e0e0e0"/>
<circle cx="477.2" cy="472.9" r="1.0" fill="#e0e0e0"/>
<circle cx="487.2" cy="472.9" r="1.0" fill="#e0e0e0"/>
<circle cx="497.2" cy="472.9" r="1.0" fill="#e0e0e0"/>
<circle cx="507.2" cy="472.9" r="1.0" fill="#e0e0e0"/>
<circle cx="517.2" cy="472.9" r="1.0" fill="#e0e0e0"/>
<circle cx="527.2" cy="472.9" r="1.0" fill="#e0e0e0"/>
</svg>
</body></html>
